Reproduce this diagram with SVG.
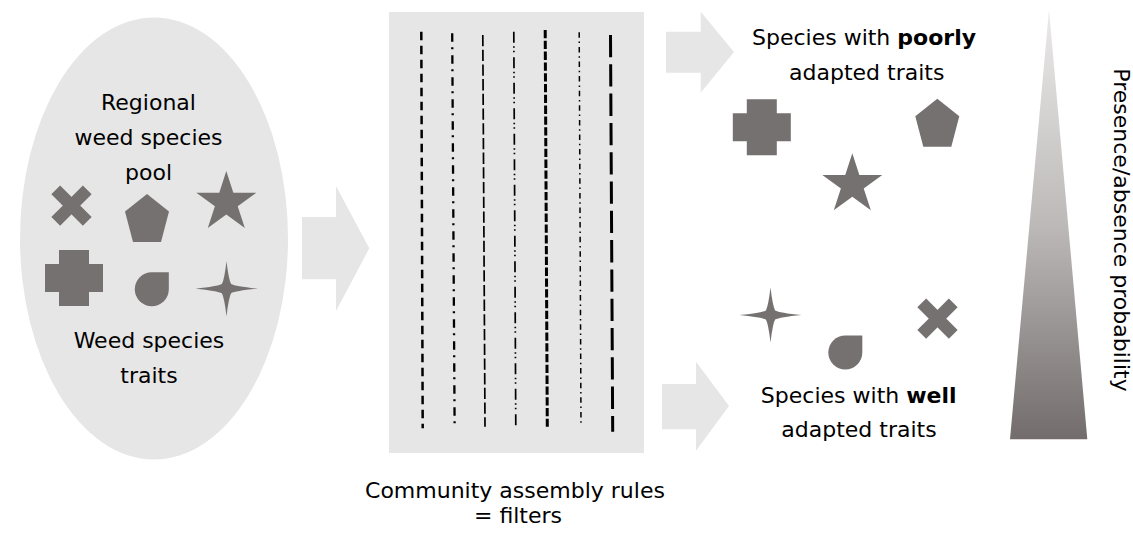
<svg xmlns="http://www.w3.org/2000/svg" xmlns:xlink="http://www.w3.org/1999/xlink" width="1133" height="535" viewBox="0 0 1133 535">
  <style>
    .panel { fill: #e6e6e6; }
    .arrow { fill: #e6e6e6; }
    .shape { fill: #757170; }
    .lbl { font-family: "DejaVu Sans", Verdana, sans-serif; font-size: 22px; fill: #000; text-anchor: middle; }
    .b { font-weight: bold; }
    .rule { fill: none; stroke: #000; }
  </style>
  <defs>
    <linearGradient id="probGrad" x1="0" y1="0" x2="0" y2="1">
      <stop offset="0" stop-color="#ebe9e9"/>
      <stop offset="0.5" stop-color="#bdb9b9"/>
      <stop offset="1" stop-color="#726d6c"/>
    </linearGradient>
    <!-- trait glyphs, each centred on its own origin -->
    <path id="plus" d="M-15,-28 H15 V-14 H29 V14 H15 V28 H-15 V14 H-29 V-14 H-15 Z"/>
    <path id="pentagon" d="M0,-24 L22,-6.5 L14,24 L-14,24 L-22,-6.5 Z"/>
    <path id="star5" d="M0,-31.5 L7.05,-9.71 L29.96,-9.73 L11.41,3.71 L18.52,25.48 L0,12 L-18.52,25.48 L-11.41,3.71 L-29.96,-9.73 L-7.05,-9.71 Z"/>
    <path id="star4" d="M0,-27.5 Q2.2,-9 4.6,-4.6 Q9,-2.2 31,0 Q9,2.2 4.6,4.6 Q2.2,9 0,27.5 Q-2.2,9 -4.6,4.6 Q-9,2.2 -31,0 Q-9,-2.2 -4.6,-4.6 Q-2.2,-9 0,-27.5 Z"/>
    <g id="cross">
      <rect x="-22.3" y="-6.2" width="44.6" height="12.4" transform="rotate(45)"/>
      <rect x="-22.3" y="-6.2" width="44.6" height="12.4" transform="rotate(-45)"/>
    </g>
    <path id="drop" d="M0,-17 H17 V0 A17,17 0 1 1 0,-17 Z"/>
  </defs>

  <!-- regional species pool -->
  <g id="pool">
    <ellipse class="panel" cx="154" cy="238.5" rx="134" ry="221"/>
    <text class="lbl" x="148.5" y="110">Regional</text>
    <text class="lbl" x="148.5" y="145">weed species</text>
    <text class="lbl" x="148.5" y="180">pool</text>
    <use href="#cross" class="shape" x="71.5" y="205.7"/>
    <use href="#pentagon" class="shape" x="147" y="218"/>
    <use href="#star5" class="shape" x="226.3" y="202.5"/>
    <use href="#plus" class="shape" x="74" y="278"/>
    <use href="#drop" class="shape" x="151.8" y="289.2"/>
    <use href="#star4" class="shape" x="226.5" y="288.7"/>
    <text class="lbl" x="149" y="348">Weed species</text>
    <text class="lbl" x="149" y="383">traits</text>
  </g>

  <!-- assembly filters -->
  <g id="filters">
    <rect class="panel" x="389" y="12" width="255" height="441"/>
    <line class="rule" x1="421.3" y1="31.7" x2="422.7" y2="428.3" stroke-width="2.5" stroke-dasharray="8.5 5.5"/>
    <line class="rule" x1="452.2" y1="33.3" x2="454.6" y2="423.3" stroke-width="2.3" stroke-dasharray="8.5 5.5 2 6"/>
    <line class="rule" x1="482.8" y1="35" x2="485" y2="426.7" stroke-width="1.7" stroke-dasharray="11.3 3.4"/>
    <line class="rule" x1="513.8" y1="31.7" x2="515.8" y2="428.3" stroke="#333" stroke-width="1.7" stroke-dasharray="11 3.5 1.5 3 1.5 5"/>
    <line class="rule" x1="545.2" y1="30" x2="547.3" y2="426.7" stroke-width="3" stroke-dasharray="8.3 2.5"/>
    <line class="rule" x1="579.2" y1="32.3" x2="581" y2="425" stroke-width="1.5" stroke-dasharray="5.5 3.8 1.5 3.8"/>
    <line class="rule" x1="610.5" y1="35" x2="612.7" y2="431.7" stroke-width="3" stroke-dasharray="22.3 7"/>
    <text class="lbl" x="515" y="498.3">Community assembly rules</text>
    <text class="lbl" x="518" y="523.3">= filters</text>
  </g>

  <!-- poorly adapted outcome -->
  <g id="poorly">
    <text class="lbl" x="864" y="45">Species with <tspan class="b">poorly</tspan></text>
    <text class="lbl" x="866.7" y="80">adapted traits</text>
    <use href="#plus" class="shape" x="761.8" y="127.3"/>
    <use href="#pentagon" class="shape" x="937.3" y="122.8"/>
    <use href="#star5" class="shape" x="852.3" y="184.8"/>
  </g>

  <!-- well adapted outcome -->
  <g id="well">
    <use href="#star4" class="shape" x="770.5" y="315"/>
    <use href="#drop" class="shape" x="845.3" y="352.5"/>
    <use href="#cross" class="shape" x="937.5" y="318.7"/>
    <text class="lbl" x="858.7" y="402.7">Species with <tspan class="b">well</tspan></text>
    <text class="lbl" x="859" y="436.7">adapted traits</text>
  </g>

  <!-- probability scale -->
  <g id="probability">
    <polygon points="1049,10 1087.3,439.3 1010,439.3" fill="url(#probGrad)"/>
    <text class="lbl" transform="translate(1114,230) rotate(90)">Presence/absence probability</text>
  </g>

  <!-- block arrows between stages -->
  <g id="connectors">
    <polygon class="arrow" points="302,217 336,217 336,186 369.3,248.3 336,311 336,279.3 302,279.3"/>
    <polygon class="arrow" points="666,31.7 700.7,31.7 700.7,11.7 734,52 700.7,92.7 700.7,72.7 666,72.7"/>
    <polygon class="arrow" points="662,384 696,384 696,361.7 729,406 696,450.7 696,429.3 662,429.3"/>
  </g>
</svg>
